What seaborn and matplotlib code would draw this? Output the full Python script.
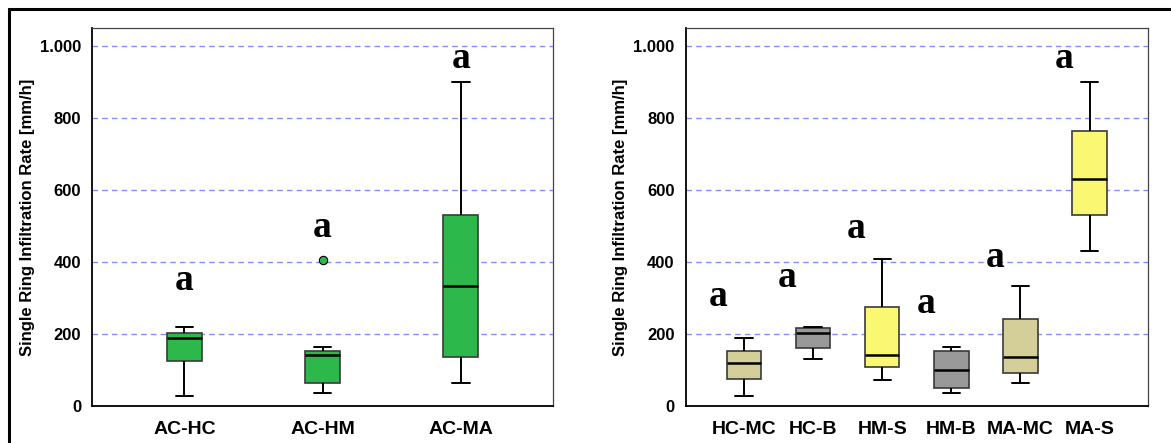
import matplotlib
matplotlib.use("Agg")
import matplotlib.pyplot as plt
from matplotlib.patches import Rectangle
from matplotlib.ticker import FuncFormatter
import seaborn as sns
import pandas as pd
import numpy as np

# Five-number summaries (mm/h)
left_groups = ["AC-HC", "AC-HM", "AC-MA"]
left_low = [29, 37, 65]
left_q1 = [125, 65, 135]
left_med = [190, 143, 335]
left_q3 = [203, 154, 530]
left_high = [221, 165, 900]
left_outlier_group = ["AC-HM"]
left_outlier_value = [407]
left_letter_y = [348, 497, 965]
left_colors = ["#2DB84B", "#2DB84B", "#2DB84B"]

right_groups = ["HC-MC", "HC-B", "HM-S", "HM-B", "MA-MC", "MA-S"]
right_low = [29, 131, 72, 37, 65, 430]
right_q1 = [74, 161, 108, 49, 92, 530]
right_med = [119, 203, 143, 101, 135, 630]
right_q3 = [154, 217, 275, 154, 242, 765]
right_high = [190, 221, 408, 165, 335, 900]
right_letter_y = [305, 358, 493, 286, 412, 965]
right_colors = ["#D4CF98", "#999999", "#FAF872", "#999999", "#D4CF98", "#FAF872"]

letters = "a"
y_ticks = [0, 200, 400, 600, 800, 1000]
y_label = "Single Ring Infiltration Rate [mm/h]"

sns.set_style("white")
plt.rcParams["font.family"] = ["Liberation Sans", "DejaVu Sans"]
plt.rcParams["text.color"] = "black"
plt.rcParams["axes.labelcolor"] = "black"
plt.rcParams["xtick.labelcolor"] = "black"
plt.rcParams["ytick.labelcolor"] = "black"


def draw_panel(ax, groups, low, q1, med, q3, high, colors, width, letter_y, letter_dx, xpad):
    # five points per group reproduce the summary exactly in seaborn's boxplot
    vals = np.column_stack([low, q1, med, q3, high]).ravel()
    df = pd.DataFrame({"group": np.repeat(groups, 5), "rate": vals})
    sns.boxplot(data=df, x="group", y="rate", hue="group", order=groups,
                hue_order=groups, palette=colors, saturation=1, width=width,
                linewidth=1.2, linecolor="#3a3a3a", legend=False, ax=ax,
                whiskerprops=dict(color="black", linewidth=1.4),
                capprops=dict(color="black", linewidth=1.4),
                medianprops=dict(color="black", linewidth=1.8))
    for i, y in enumerate(letter_y):
        ax.text(i + letter_dx, y, letters, ha="center", va="center", fontsize=27,
                fontweight="bold", color="black",
                family=["Liberation Serif", "DejaVu Serif"])
    ax.set_xlim(-xpad, len(groups) - 1 + xpad)
    ax.set_ylim(0, 1051)
    ax.set_yticks(y_ticks)
    ax.yaxis.set_major_formatter(FuncFormatter(lambda v, p: f"{v:,.0f}".replace(",", ".")))
    ax.yaxis.grid(True, linestyle=(0, (4, 3)), color="#8A8AFF", linewidth=1.0)
    ax.set_axisbelow(True)
    ax.set_xlabel("")
    ax.set_ylabel(y_label, fontsize=12, fontweight="bold", color="black")
    ax.tick_params(axis="y", labelsize=12, length=6, width=1, color="#333333",
                   labelcolor="black", pad=2)
    ax.tick_params(axis="x", labelsize=14, length=6, width=1, color="#555555",
                   labelcolor="black", pad=5)
    for lab in ax.get_xticklabels() + ax.get_yticklabels():
        lab.set_fontweight("bold")
    for side in ["left", "bottom"]:
        ax.spines[side].set_color("black")
        ax.spines[side].set_linewidth(1.3)
    for side in ["top", "right"]:
        ax.spines[side].set_color("#444444")
        ax.spines[side].set_linewidth(0.9)


fig = plt.figure(figsize=(11.71, 4.43), dpi=100)
ax1 = fig.add_axes([0.0787, 0.0835, 0.3935, 0.8533])
ax2 = fig.add_axes([0.5857, 0.0835, 0.3943, 0.8533])

draw_panel(ax1, left_groups, left_low, left_q1, left_med, left_q3, left_high,
           left_colors, 0.253, left_letter_y, 0.0, 0.667)
sns.stripplot(x=left_outlier_group, y=left_outlier_value, order=left_groups,
              jitter=False, color="#2DB84B", edgecolor="black", linewidth=0.8,
              size=6, ax=ax1)
ax1.set_xlim(-0.667, 2.667)

draw_panel(ax2, right_groups, right_low, right_q1, right_med, right_q3, right_high,
           right_colors, 0.5, right_letter_y, -0.37, 0.84)

for ax in [ax1, ax2]:
    ax.yaxis.set_label_coords(-0.125, 0.5)

# outer frame (top and left edges visible)
fig.add_artist(Rectangle((0.0075, -0.5), 2.0, 0.979 + 0.5, transform=fig.transFigure,
                         fill=False, edgecolor="black", linewidth=2.2))

fig.savefig("out.png", dpi=100)
